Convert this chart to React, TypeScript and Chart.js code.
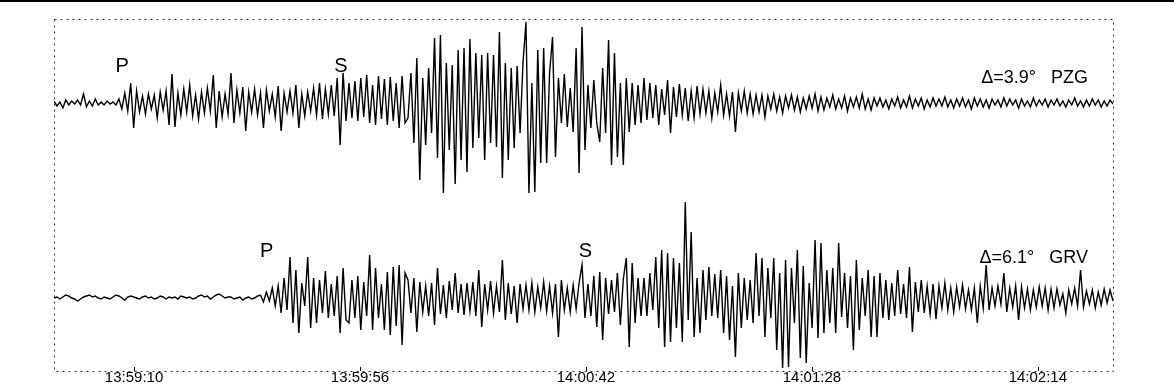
import React, { useEffect, useRef } from "react";
import { Chart, registerables } from "chart.js";

Chart.register(...registerables);

// time axis: seconds after 13:58:53.7
const DURATION = 215.6;
const tickSeconds = [16.3, 62.3, 108.3, 154.3, 200.3];
const tickLabels = ["13:59:10", "13:59:56", "14:00:42", "14:01:28", "14:02:14"];

const stationNames = ["PZG", "GRV"];
const stationDistances = ["3.9", "6.1"];
const traceOffsets = [92, -103];
const pArrivals = [13.9, 43.3];
const sArrivals = [58.4, 108.2];

// PZG trace amplitudes (uniform sampling)
const pzgTrace = [
  2, -3, 1, -5, 3, -2, 2, -1, 3, -2, 9, -4, 2, -3, 4, -2, 1, -2, 2, -1,
  1, -2, 4, -6, 10, -8, 20, -25, 12, -9, 7, -11, 9, -6, 8, -15, 11, -7, 12, -22,
  29, -24, 10, -12, 14, -9, 18, -13, 8, -16, 11, -10, 15, -8, 28, -25, 12, -14, 9, -11,
  30, -20, 13, -10, 16, -28, 11, -9, 14, -12, 10, -25, 13, -8, 9, -14, 17, -28, 10, -9,
  12, -10, 18, -25, 9, -13, 11, -8, 15, -12, 20, -16, 14, -11, 18, -13, 25, -42, 30, -18,
  20, -15, 22, -18, 25, -14, 28, -20, 18, -22, 27, -16, 24, -22, 26, -18, 20, -25, 27, -20,
  -15, 30, -40, 45, -77, 25, -42, 35, -30, 65, -55, 68, -90, 40, -47, 38, -81, 53, -57, 55,
  -69, 64, -45, 50, -35, 48, -57, 50, -40, 48, -44, 71, -75, 40, -57, 35, -45, 37, -30, 41,
  81, -90, 20, -89, 53, -60, 55, -60, 30, 66, -54, 25, -20, 29, -24, 15, -29, 55, -70, 76,
  -47, 18, -25, 23, -20, -39, 35, -30, 63, -62, 50, -54, 20, -62, 25, -29, 20, -22, 18, -20,
  25, -17, 20, -15, 18, -22, 14, -12, 23, -30, 16, -14, 19, -12, 15, -18, 12, -15, 17, -11,
  14, -10, 12, -15, 10, -9, 18, -12, 9, -13, 11, -29, 10, -8, 12, -10, 9, -11, 8, -9,
  8, -14, 7, -6, 9, -8, 6, -10, 7, -5, 8, -7, 6, -9, 5, -6, 7, -5, 9, -8,
  6, -7, 5, -4, 8, -6, 4, -5, 7, -8, 5, -4, 6, -5, 9, -6, 4, -7, 5, -3,
  5, -4, 3, -6, 4, -3, 6, -5, 3, -4, 7, -5, 4, -3, 5, -6, 3, -4, 5, -3,
  4, -3, 6, -4, 3, -5, 4, -3, 5, -4, 3, -6, 5, -3, 4, -4, 3, -5, 4, -2,
  3, -4, 5, -3, 4, -2, 3, -5, 4, -3, 2, -4, 5, -3, 3, -2, 4, -4, 3, -2,
  4, -3, 2, -4, 3, -2, 5, -3, 2, -4, 3, -3, 4, -2, 3, -4, 2, -3, 3, -1,
];

// GRV trace amplitudes (uniform sampling)
const grvTrace = [
  0, 1, -1, 1, 3, 2, 0, -1, -3, -1, 1, 2, 3, 1, 2, 0, -1, 1, 0, -1,
  1, 3, 2, 0, -2, 1, 2, 1, 0, -1, 1, 2, 0, 1, -1, 0, 2, 1, -1, 1,
  0, 1, -1, 2, 1, 0, 1, -1, 0, 2, 3, 1, 2, -1, 1, 3, 4, 2, 0, 1,
  1, -1, 0, 1, -2, 0, 1, -1, 0, 2, 3, -4, 6, -3, 10, -8, 12, -15, 20, -12,
  41, -25, 28, -35, 15, -8, 41, -30, 20, -25, 18, -15, 27, -20, 14, -18, 22, -35, 30, -22,
  -25, 18, -20, 22, -32, 16, -18, 43, -32, 30, -20, 14, -32, 26, -37, 31, -28, 33, -47, 25,
  18, -15, 20, -34, 16, -14, 12, -18, 15, -27, 30, -16, 13, -20, 17, -12, 25, -15, 14, -17,
  15, -13, 16, -18, 28, -29, 14, -12, 17, -15, 12, -14, 38, -22, 15, -16, 12, -25, 14, -11,
  13, -12, 15, -14, 11, -10, 16, -13, 12, -15, 14, -39, 18, -12, 10, -14, 13, -11, 15, 33,
  -20, 14, -18, 22, -29, 26, -42, 20, -16, 18, -14, 25, -27, 19, 40, -49, 35, -25, 20, -18,
  20, -18, 25, -12, 41, -30, 48, -49, 45, -44, 40, -30, 35, -44, 96, -22, 66, -39, 20, -35,
  28, -22, 31, -18, 24, -20, 28, -35, 22, -42, 12, -59, 25, -30, 20, -22, 18, -25, 45, -18,
  40, -39, 30, -20, 40, -52, 25, -70, 38, -69, 30, -25, 48, -60, 32, -65, 15, -30, 58, -40,
  55, -35, 28, -25, 30, -35, 55, -19, 25, -30, 22, -52, 38, -32, 20, -18, 28, -39, 22, -39,
  25, -20, 18, -22, 15, -18, 28, -16, 14, -20, 31, -34, 16, -14, 18, -15, 12, -16, 14, -21,
  12, -10, 15, -12, 10, -14, 11, -9, 13, -11, 8, -12, 10, -25, 12, -10, 33, -12, 10, -8,
  12, -6, 25, -14, 10, -9, 12, -22, 11, -10, 9, -12, 8, -9, 11, -8, 10, -12, 9, -10,
  9, -7, 4, -15, 8, -6, 10, -8, 28, -9, 7, -6, 8, -10, 6, -7, 9, -5, 8, -3,
];

const traces = [pzgTrace, grvTrace];

const FONT = '"Liberation Sans", Arial, Helvetica, sans-serif';

const decorPlugin = {
  id: "seismoDecor",
  afterDraw(chart: any) {
    const { ctx, chartArea: a, scales } = chart;
    const xs = scales.x;
    const ys = scales.y;
    ctx.save();
    // page rule at top
    ctx.fillStyle = "#000";
    ctx.fillRect(0, 0, chart.width, 2);
    // dotted frame
    ctx.strokeStyle = "#333";
    ctx.lineWidth = 1;
    ctx.setLineDash([2, 4]);
    ctx.strokeRect(Math.round(a.left) + 0.5, Math.round(a.top) + 0.5, Math.round(a.right - a.left), Math.round(a.bottom - a.top));
    ctx.setLineDash([]);
    // tick marks
    ctx.strokeStyle = "#000";
    tickSeconds.forEach((t) => {
      const px = Math.round(xs.getPixelForValue(t)) + 0.5;
      ctx.beginPath();
      ctx.moveTo(px, a.bottom);
      ctx.lineTo(px, a.bottom - 4);
      ctx.stroke();
    });
    // phase labels
    ctx.fillStyle = "#000";
    ctx.textBaseline = "alphabetic";
    const phaseLift = [31, 41];
    const distLift = [20, 35];
    traces.forEach((_, k) => {
      const py = ys.getPixelForValue(traceOffsets[k]);
      ctx.font = `20px ${FONT}`;
      ctx.textAlign = "center";
      ctx.fillText("P", xs.getPixelForValue(pArrivals[k]), py - phaseLift[k]);
      ctx.fillText("S", xs.getPixelForValue(sArrivals[k]), py - phaseLift[k]);
      ctx.font = `18px ${FONT}`;
      ctx.textAlign = "right";
      ctx.fillText(`\u0394=${stationDistances[k]}\u00b0   ${stationNames[k]}`, a.right - 25, py - distLift[k]);
    });
    ctx.restore();
  },
};

export default function App() {
  const ref = useRef<HTMLCanvasElement>(null);
  useEffect(() => {
    if (!ref.current) return;
    const dt = DURATION / (pzgTrace.length - 1);
    const datasets = traces.map((tr, k) => ({
      label: stationNames[k],
      data: tr.map((v, i) => ({ x: i * dt, y: v + traceOffsets[k] })),
      borderColor: "#000",
      borderWidth: 1.4,
      pointRadius: 0,
      tension: 0,
      fill: false,
    }));
    const chart = new Chart(ref.current, {
      type: "line",
      data: { datasets },
      options: {
        animation: false,
        responsive: false,
        devicePixelRatio: 1,
        layout: { padding: { left: 54, right: 61, top: 19, bottom: 0 } },
        plugins: { legend: { display: false }, tooltip: { enabled: false } },
        scales: {
          x: {
            type: "linear",
            min: 0,
            max: DURATION,
            grid: { display: false, drawTicks: false },
            border: { display: false },
            afterBuildTicks: (scale: any) => {
              scale.ticks = tickSeconds.map((v) => ({ value: v }));
            },
            afterFit: (scale: any) => {
              scale.height = 13;
            },
            ticks: {
              autoSkip: false,
              maxRotation: 0,
              padding: -2,
              color: "#000",
              font: { family: FONT, size: 15 },
              callback: (_v: any, i: number) => tickLabels[i],
            },
          },
          y: {
            display: false,
            min: -176,
            max: 176,
          },
        },
      },
      plugins: [decorPlugin],
    } as any);
    return () => chart.destroy();
  }, []);
  return (
    <div style={{ position: "absolute", left: 0, top: 0, width: 1174, height: 384, background: "#fff" }}>
      <canvas ref={ref} width={1174} height={384} style={{ display: "block" }} />
    </div>
  );
}
